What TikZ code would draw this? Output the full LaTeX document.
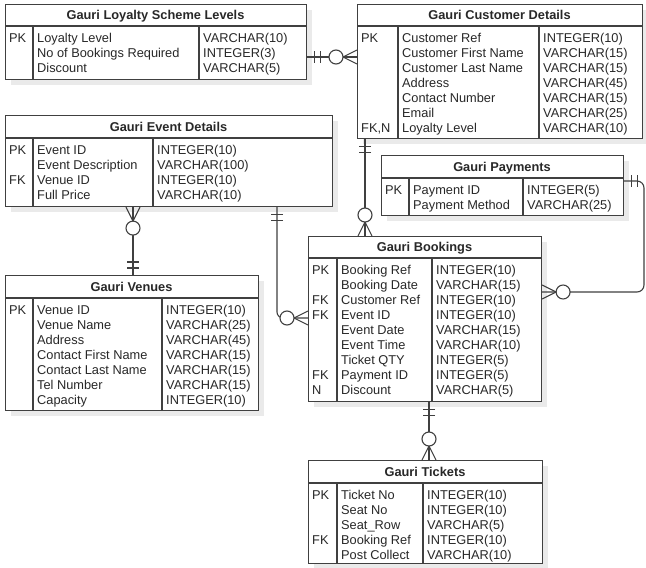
\documentclass[tikz,border=0pt]{standalone}
\usepackage{fontspec}
\setmainfont{Liberation Sans}
\definecolor{linec}{RGB}{64,64,64}
\definecolor{txtc}{RGB}{40,40,40}
\definecolor{shadowc}{RGB}{234,234,234}
\tikzset{
 tbl/.style={draw=linec, line width=1.1pt, fill=white, inner sep=0pt, anchor=north west},
 tline/.style={draw=linec, line width=1.1pt},
 cell/.style={inner sep=0pt, anchor=base west, text=txtc, font=\fontsize{12.8}{15}\selectfont},
 ttl/.style={inner sep=0pt, anchor=base, text=txtc, font=\bfseries\fontsize{12.8}{15}\selectfont},
 conn/.style={draw=linec, line width=1.1pt},
}
% name, x1, y1, x2, y2, header y, divider1, divider2, title
\newcommand\erTable[9]{%
 \fill[shadowc] (#2+6,#3+6) rectangle (#4+6,#5+6);
 \node[tbl, minimum width={#4-#2}, minimum height={#5-#3}] (#1) at (#2,#3) {};
 \draw[tline] (#1.west |- 0,#6) -- (#1.east |- 0,#6);
 \draw[tline] (#7,#6) -- (#7,#5);
 \draw[tline] (#8,#6) -- (#8,#5);
 \node[ttl] (#1-t) at ({(#2+#4)/2},{(#3+#6)/2+4.5}) {#9};
}
% name, x, first baseline, list
\newcommand\erCol[4]{\foreach \t [count=\i] in {#4} {\node[cell] (#1-\i) at (#2,#3+15*\i-15) {\t};}}
\newcommand\erOne[2]{\begin{scope}[shift={(#1)},rotate=#2]\draw[conn] (7,-6)--(7,6) (13,-6)--(13,6);\end{scope}}
\newcommand\erMany[2]{\begin{scope}[shift={(#1)},rotate=#2]\draw[conn] (0,7)--(14,0)--(0,-7);\draw[conn,fill=white] (21,0) circle[radius=7];\end{scope}}
\begin{document}
\begin{tikzpicture}[x=1pt,y=-1pt]
\useasboundingbox[fill=white] (0,0) rectangle (646,568);

\erTable{loy}{5}{4}{306}{79}{26}{33}{199}{Gauri Loyalty Scheme Levels}
\erCol{loy-k}{9}{42.5}{PK}
\erCol{loy-f}{37}{42.5}{Loyalty Level,No of Bookings Required,Discount}
\erCol{loy-y}{203}{42.5}{VARCHAR(10),INTEGER(3),VARCHAR(5)}

\erTable{cust}{357}{4}{642}{138}{26}{398}{539}{Gauri Customer Details}
\erCol{cust-k}{361}{42.5}{PK,{},{},{},{},{},{FK,N}}
\erCol{cust-f}{402}{42.5}{Customer Ref,Customer First Name,Customer Last Name,Address,Contact Number,Email,Loyalty Level}
\erCol{cust-y}{543}{42.5}{INTEGER(10),VARCHAR(15),VARCHAR(15),VARCHAR(45),VARCHAR(15),VARCHAR(25),VARCHAR(10)}

\erTable{evt}{5}{115}{332}{206}{138}{33}{153}{Gauri Event Details}
\erCol{evt-k}{9}{154.5}{PK,{},FK}
\erCol{evt-f}{37}{154.5}{Event ID,Event Description,Venue ID,Full Price}
\erCol{evt-y}{157}{154.5}{INTEGER(10),VARCHAR(100),INTEGER(10),VARCHAR(10)}

\erTable{pay}{381}{155}{623}{215}{178}{409}{523}{Gauri Payments}
\erCol{pay-k}{385}{194.5}{PK}
\erCol{pay-f}{413}{194.5}{Payment ID,Payment Method}
\erCol{pay-y}{527}{194.5}{INTEGER(5),VARCHAR(25)}

\erTable{ven}{5}{275}{258}{410}{298}{33}{162}{Gauri Venues}
\erCol{ven-k}{9}{314.5}{PK}
\erCol{ven-f}{37}{314.5}{Venue ID,Venue Name,Address,Contact First Name,Contact Last Name,Tel Number,Capacity}
\erCol{ven-y}{166}{314.5}{INTEGER(10),VARCHAR(25),VARCHAR(45),VARCHAR(15),VARCHAR(15),VARCHAR(15),INTEGER(10)}

\erTable{book}{308}{236}{541}{401}{258}{337}{432}{Gauri Bookings}
\erCol{book-k}{312}{274.5}{PK,{},FK,FK,{},{},{},FK,N}
\erCol{book-f}{341}{274.5}{Booking Ref,Booking Date,Customer Ref,Event ID,Event Date,Event Time,Ticket QTY,Payment ID,Discount}
\erCol{book-y}{436}{274.5}{INTEGER(10),VARCHAR(15),INTEGER(10),INTEGER(10),VARCHAR(15),VARCHAR(10),INTEGER(5),INTEGER(5),VARCHAR(5)}

\erTable{tick}{308}{460}{542}{563}{483}{337}{423}{Gauri Tickets}
\erCol{tick-k}{312}{499}{PK,{},{},FK}
\erCol{tick-f}{341}{499}{Ticket No,Seat No,Seat\_Row,Booking Ref,Post Collect}
\erCol{tick-y}{427}{499}{INTEGER(10),INTEGER(10),VARCHAR(5),INTEGER(10),VARCHAR(10)}

% Loyalty -> Customer
\coordinate (a1) at (loy.east |- 0,57);
\coordinate (a2) at (cust.west |- 0,57);
\draw[conn] (a1) -- (a2);
\erOne{a1}{0}\erMany{a2}{180}

% Customer -> Bookings
\coordinate (b1) at (cust.south -| 365,0);
\coordinate (b2) at (book.north -| 365,0);
\draw[conn] (b1) -- (b2);
\erOne{b1}{-90}\erMany{b2}{90}

% Event -> Venues
\coordinate (c1) at (evt.south -| 133,0);
\coordinate (c2) at (ven.north -| 133,0);
\draw[conn] (c1) -- (c2);
\erMany{c1}{-90}\erOne{c2}{90}

% Event -> Bookings
\coordinate (d1) at (evt.south -| 277,0);
\coordinate (d2) at (book.west |- 0,318);
\draw[conn,rounded corners=6] (d1) |- (d2);
\erOne{d1}{-90}\erMany{d2}{180}

% Payments -> Bookings
\coordinate (e1) at (pay.east |- 0,181);
\coordinate (e2) at (book.east |- 0,292);
\draw[conn,rounded corners=7] (e1) -- (e1 -| 644,0) |- (e2);
\erOne{e1}{0}\erMany{e2}{0}

% Bookings -> Tickets
\coordinate (f1) at (book.south -| 429,0);
\coordinate (f2) at (tick.north -| 429,0);
\draw[conn] (f1) -- (f2);
\erOne{f1}{-90}\erMany{f2}{90}
\end{tikzpicture}
\end{document}
